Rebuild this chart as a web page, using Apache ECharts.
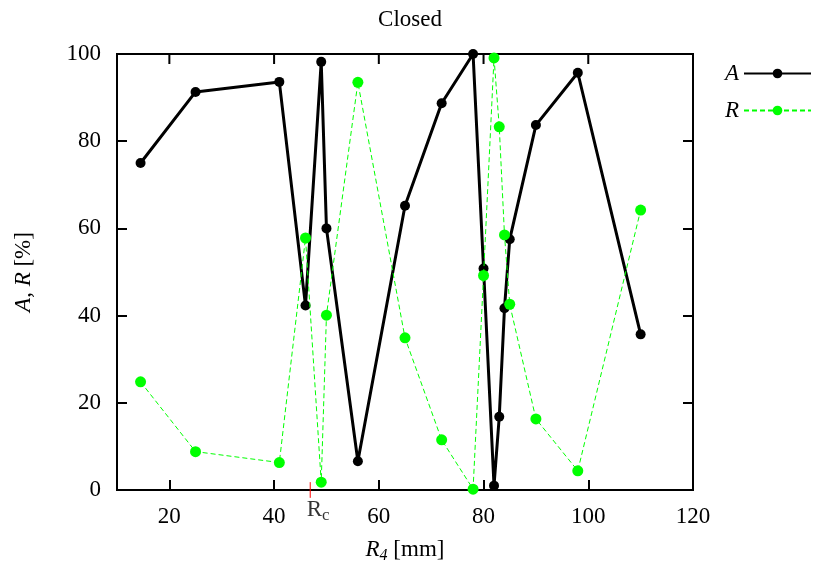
<!DOCTYPE html>
<html>
<head>
<meta charset="utf-8">
<script src="https://cdn.jsdelivr.net/npm/echarts@6/dist/echarts.min.js"></script>
<style>
  html, body { margin: 0; padding: 0; background: #fff; }
  #chart { width: 814px; height: 566px; }
</style>
</head>
<body>
<div id="chart"></div>
<script>
// Radius R4 in mm for each measurement
const radius = [14.5, 25, 41, 46, 49, 50, 56, 65, 72, 78, 80, 82, 83, 84, 85, 90, 98, 110];
// A (%) at each radius
const valuesA = [75.0, 91.3, 93.6, 42.3, 98.2, 60.0, 6.6, 65.2, 88.7, 100.0, 50.8, 1.0, 16.8, 41.7, 57.5, 83.7, 95.7, 35.7];
// R (%) at each radius
const valuesR = [24.8, 8.8, 6.3, 57.8, 1.8, 40.1, 93.5, 34.9, 11.5, 0.2, 49.2, 99.1, 83.3, 58.5, 42.6, 16.3, 4.4, 64.2];
// Axis ticks
const xTicks = [20, 40, 60, 80, 100, 120];
const yTicks = [0, 20, 40, 60, 80, 100];
// Critical radius marker
const rCritical = 46.9;

const FONT = '"Liberation Serif", "DejaVu Serif", serif';
const FS = 23;
const Y_MAX = 100;
const TOP_TICK_LEN = 2.3; // in y units, matches the 10 px inward ticks

const pairs = (xs, ys) => xs.map((x, i) => [x, ys[i]]);

// Inward tick segments along the top frame, one per x tick value
const topTickData = xTicks.flatMap(v => [[v, Y_MAX], [v, Y_MAX - TOP_TICK_LEN], '-']);

const chart = echarts.init(document.getElementById('chart'), null, { renderer: 'canvas' });

const tickStyle = () => ({ show: true, inside: true, length: 10, lineStyle: { color: '#000', width: 2 } });
const frameLine = () => ({ show: true, onZero: false, lineStyle: { color: '#000', width: 2 } });

chart.setOption({
  animation: false,
  backgroundColor: '#fff',
  title: {
    text: 'Closed',
    left: 405, top: 3, textAlign: 'center',
    textStyle: { fontFamily: FONT, fontSize: FS, fontWeight: 'normal', color: '#000' }
  },
  legend: {
    orient: 'vertical',
    right: 2, top: 62, padding: 0,
    align: 'right',
    itemWidth: 67, itemHeight: 12,
    itemGap: 14,
    data: ['A', 'R'],
    textStyle: { fontFamily: FONT, fontSize: FS, fontStyle: 'italic', color: '#000' }
  },
  grid: {
    left: 117, right: 121, top: 54, bottom: 76,
    outerBoundsMode: 'none', containLabel: false,
    show: true, borderColor: '#000', borderWidth: 2, backgroundColor: 'transparent'
  },
  xAxis: {
    type: 'value', min: 10, max: 120, position: 'bottom',
    name: '{i|R}{s|4} [mm]', nameLocation: 'middle', nameGap: 46,
    nameTextStyle: {
      fontFamily: FONT, fontSize: FS, color: '#000',
      rich: {
        i: { fontFamily: FONT, fontSize: FS, fontStyle: 'italic', color: '#000' },
        s: { fontFamily: FONT, fontSize: 16, fontStyle: 'italic', color: '#000', verticalAlign: 'bottom', padding: [12, 0, 0, 0] }
      }
    },
    axisLine: frameLine(),
    axisTick: Object.assign({ customValues: xTicks }, tickStyle()),
    axisLabel: { customValues: xTicks, margin: 15, fontFamily: FONT, fontSize: FS, color: '#000' },
    splitLine: { show: false }
  },
  yAxis: [
    {
      type: 'value', min: 0, max: Y_MAX, interval: 20, position: 'left',
      name: '{i|A}, {i|R} [%]', nameLocation: 'middle', nameGap: 82,
      nameTextStyle: {
        fontFamily: FONT, fontSize: FS, color: '#000',
        rich: { i: { fontFamily: FONT, fontSize: FS, fontStyle: 'italic', color: '#000' } }
      },
      axisLine: frameLine(),
      axisTick: tickStyle(),
      axisLabel: { margin: 16, fontFamily: FONT, fontSize: FS, color: '#000' },
      splitLine: { show: false }
    },
    {
      type: 'value', min: 0, max: Y_MAX, interval: 20, position: 'right',
      axisLine: frameLine(),
      axisTick: tickStyle(),
      axisLabel: { show: false },
      splitLine: { show: false }
    }
  ],
  series: [
    {
      name: 'top ticks', type: 'line',
      data: topTickData,
      clip: false, silent: true, connectNulls: false,
      symbol: 'none',
      lineStyle: { color: '#000', width: 2 },
      z: 2
    },
    {
      name: 'A', type: 'line',
      data: pairs(radius, valuesA),
      symbol: 'circle', symbolSize: 10,
      itemStyle: { color: '#000' },
      lineStyle: { color: '#000', width: 3 },
      z: 3
    },
    {
      name: 'R', type: 'line',
      data: pairs(radius, valuesR),
      symbol: 'circle', symbolSize: 11,
      itemStyle: { color: '#00ff00' },
      lineStyle: { color: '#00ff00', width: 1, type: [5, 3] },
      z: 4
    },
    {
      name: 'Rc tick', type: 'line',
      data: [[rCritical, 1.8], [rCritical, -1.8]],
      clip: false, silent: true,
      symbol: 'none',
      lineStyle: { color: '#ff0000', width: 1 },
      z: 5
    },
    {
      name: 'Rc label', type: 'scatter',
      data: [[rCritical, -1.8]],
      clip: false, silent: true,
      symbolSize: 1, itemStyle: { color: 'rgba(0,0,0,0)' },
      label: {
        show: true, position: 'bottom', distance: 0, offset: [8, -3],
        formatter: 'R{s|c}',
        fontFamily: FONT, fontSize: FS, color: '#000',
        rich: { s: { fontFamily: FONT, fontSize: 17, color: '#000', verticalAlign: 'bottom', padding: [12, 0, 0, 0] } }
      },
      z: 5
    }
  ]
});
</script>
</body>
</html>
